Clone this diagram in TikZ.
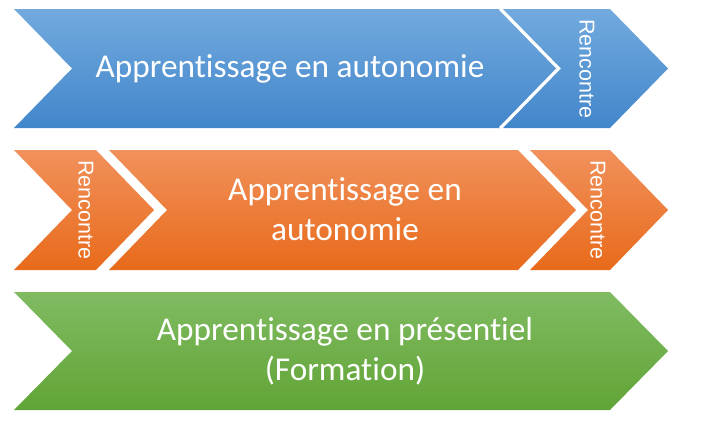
\documentclass[tikz,border=0pt]{standalone}
\usepackage{fontspec}
\setmainfont[Ligatures={NoCommon}]{Carlito}
\newfontfamily\rfont{Liberation Sans}
\definecolor{bluetop}{RGB}{114,170,222}
\definecolor{bluebot}{RGB}{66,134,203}
\definecolor{orgtop}{RGB}{241,145,92}
\definecolor{orgbot}{RGB}{232,106,26}
\definecolor{grntop}{RGB}{128,187,98}
\definecolor{grnbot}{RGB}{97,164,54}
\tikzset{
  maintext/.style={text=white, font=\fontsize{33.3}{40}\selectfont, align=center, inner sep=0pt},
  rtext/.style={text=white, font=\rfont\fontsize{21.5}{24}\selectfont, rotate=-90, inner sep=0pt},
  sep/.style={draw=white, line width=2.5pt, line join=miter},
}
\newcommand{\chevpath}[4]{(#1,#3) -- (#2,#3) -- ({#2+58},{(#3+#4)/2}) -- (#2,#4) -- (#1,#4) -- ({#1+58},{(#3+#4)/2}) -- cycle}
\begin{document}
\begin{tikzpicture}[x=1pt,y=-1pt]
\useasboundingbox (0,0) rectangle (714,424);
% Row 1
\shade[top color=bluetop, bottom color=bluebot] \chevpath{503}{610}{9}{128};
\shade[top color=bluetop, bottom color=bluebot] \chevpath{14}{500}{9}{128};
\draw[sep] (500,9) -- (558,68.5) -- (500,128);
\node[maintext] (t1) at (290,69) {Apprentissage en autonomie};
\node[rtext] (r1) at (587,69) {Rencontre};
% Row 2
\shade[top color=orgtop, bottom color=orgbot] \chevpath{14}{96}{150}{270};
\shade[top color=orgtop, bottom color=orgbot] \chevpath{109}{518}{150}{270};
\shade[top color=orgtop, bottom color=orgbot] \chevpath{530}{610}{150}{270};
\node[rtext] (r2) at (86,210) {Rencontre};
\node[maintext] (t2) at (345,209) {Apprentissage en\\autonomie};
\node[rtext] (r3) at (598,210) {Rencontre};
% Row 3
\shade[top color=grntop, bottom color=grnbot] \chevpath{14}{610}{292}{410};
\node[maintext] (t3) at (345,351) {Apprentissage en présentiel\\(Formation)};
\end{tikzpicture}
\end{document}
